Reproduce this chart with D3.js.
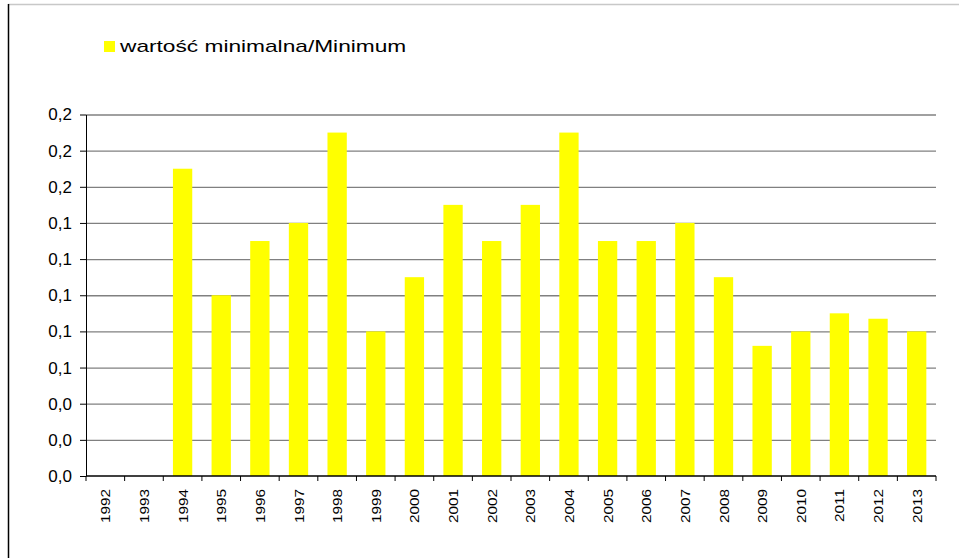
<!DOCTYPE html>
<meta charset="utf-8">
<style>
body { margin: 0; background: #fff; }
svg { display: block; font-family: "Liberation Sans", Arial, sans-serif; }
.grid line { stroke: #808080; stroke-width: 1.3px; }
.grid path { display: none; }
.axis path, .axis line { stroke: #000; }
</style>
<svg id="chart" width="959" height="558"></svg>
<script src="https://cdn.jsdelivr.net/npm/d3@7"></script>
<script>
var years = ["1992", "1993", "1994", "1995", "1996", "1997", "1998", "1999", "2000", "2001", "2002",
             "2003", "2004", "2005", "2006", "2007", "2008", "2009", "2010", "2011", "2012", "2013"];
var minimum = [null, null, 0.17, 0.10, 0.13, 0.14, 0.19, 0.08, 0.11, 0.15, 0.13,
               0.15, 0.19, 0.13, 0.13, 0.14, 0.11, 0.072, 0.08, 0.09, 0.087, 0.08];
var yTicks = [0, 0.02, 0.04, 0.06, 0.08, 0.10, 0.12, 0.14, 0.16, 0.18, 0.20];
var seriesName = "wartość minimalna/Minimum";

var svg = d3.select("#chart"),
    margin = {top: 114.5, right: 23, bottom: 82, left: 86},
    width = svg.attr("width") - margin.left - margin.right,
    height = svg.attr("height") - margin.top - margin.bottom;

// outer frame (only top and left edges show)
svg.append("line").attr("x1", 8).attr("x2", 959).attr("y1", 4.5).attr("y2", 4.5)
    .attr("stroke", "#c8c8c8").attr("stroke-width", 1.5);
svg.append("line").attr("x1", 8.5).attr("x2", 8.5).attr("y1", 4).attr("y2", 558)
    .attr("stroke", "#000").attr("stroke-width", 1.5);

var g = svg.append("g").attr("transform", "translate(" + margin.left + "," + margin.top + ")");

var x = d3.scaleBand().domain(years).range([0, width]).paddingInner(0.5).paddingOuter(0.25);
var xb = d3.scaleBand().domain(years).range([0, width]);
var y = d3.scaleLinear().domain([0, 0.2]).range([height, 0]);
var fmt = function(d) { return d3.format(".1f")(d).replace(".", ","); };

g.append("g")
    .attr("class", "grid")
    .call(d3.axisLeft(y).tickValues(yTicks.slice(1)).tickSize(-width).tickFormat(""));

g.selectAll(".bar")
    .data(years.map(function(d, i) { return {year: d, value: minimum[i]}; })
      .filter(function(d) { return d.value != null; }))
  .enter().append("rect")
    .attr("class", "bar")
    .attr("x", function(d) { return x(d.year); })
    .attr("width", x.bandwidth())
    .attr("y", function(d) { return y(d.value); })
    .attr("height", function(d) { return height - y(d.value); })
    .attr("fill", "#ffff00");

var yAxis = g.append("g")
    .attr("class", "axis")
    .call(d3.axisLeft(y).tickValues(yTicks).tickSize(6).tickSizeOuter(0).tickPadding(8).tickFormat(fmt));
yAxis.selectAll("text").style("font-size", "17px").attr("fill", "#000");

// x axis, ticks sit on the category boundaries
var xAxis = g.append("g")
    .attr("class", "axis")
    .attr("transform", "translate(0," + height + ")");
xAxis.append("line").attr("x1", 0).attr("x2", width).attr("stroke", "#000").attr("stroke-width", 1.5);
xAxis.selectAll(".tk")
    .data(years.concat(["end"]))
  .enter().append("line")
    .attr("class", "tk")
    .attr("x1", function(d, i) { return i * xb.step(); })
    .attr("x2", function(d, i) { return i * xb.step(); })
    .attr("y1", 0).attr("y2", 5)
    .attr("stroke", "#000");
xAxis.selectAll(".lbl")
    .data(years)
  .enter().append("text")
    .attr("class", "lbl")
    .attr("transform", function(d) { return "translate(" + (xb(d) + xb.bandwidth() / 2 + 5) + ",13) rotate(-90) scale(1.18,1)"; })
    .attr("text-anchor", "end")
    .style("font-size", "13px")
    .attr("fill", "#000")
    .text(function(d) { return d; });

// legend
var legend = svg.append("g").attr("transform", "translate(104,41)");
legend.append("rect").attr("width", 11).attr("height", 11).attr("fill", "#ffff00");
legend.append("text")
    .attr("transform", "translate(16,11) scale(1.42,1)")
    .style("font-size", "16px").attr("fill", "#000")
    .text(seriesName);
</script>
